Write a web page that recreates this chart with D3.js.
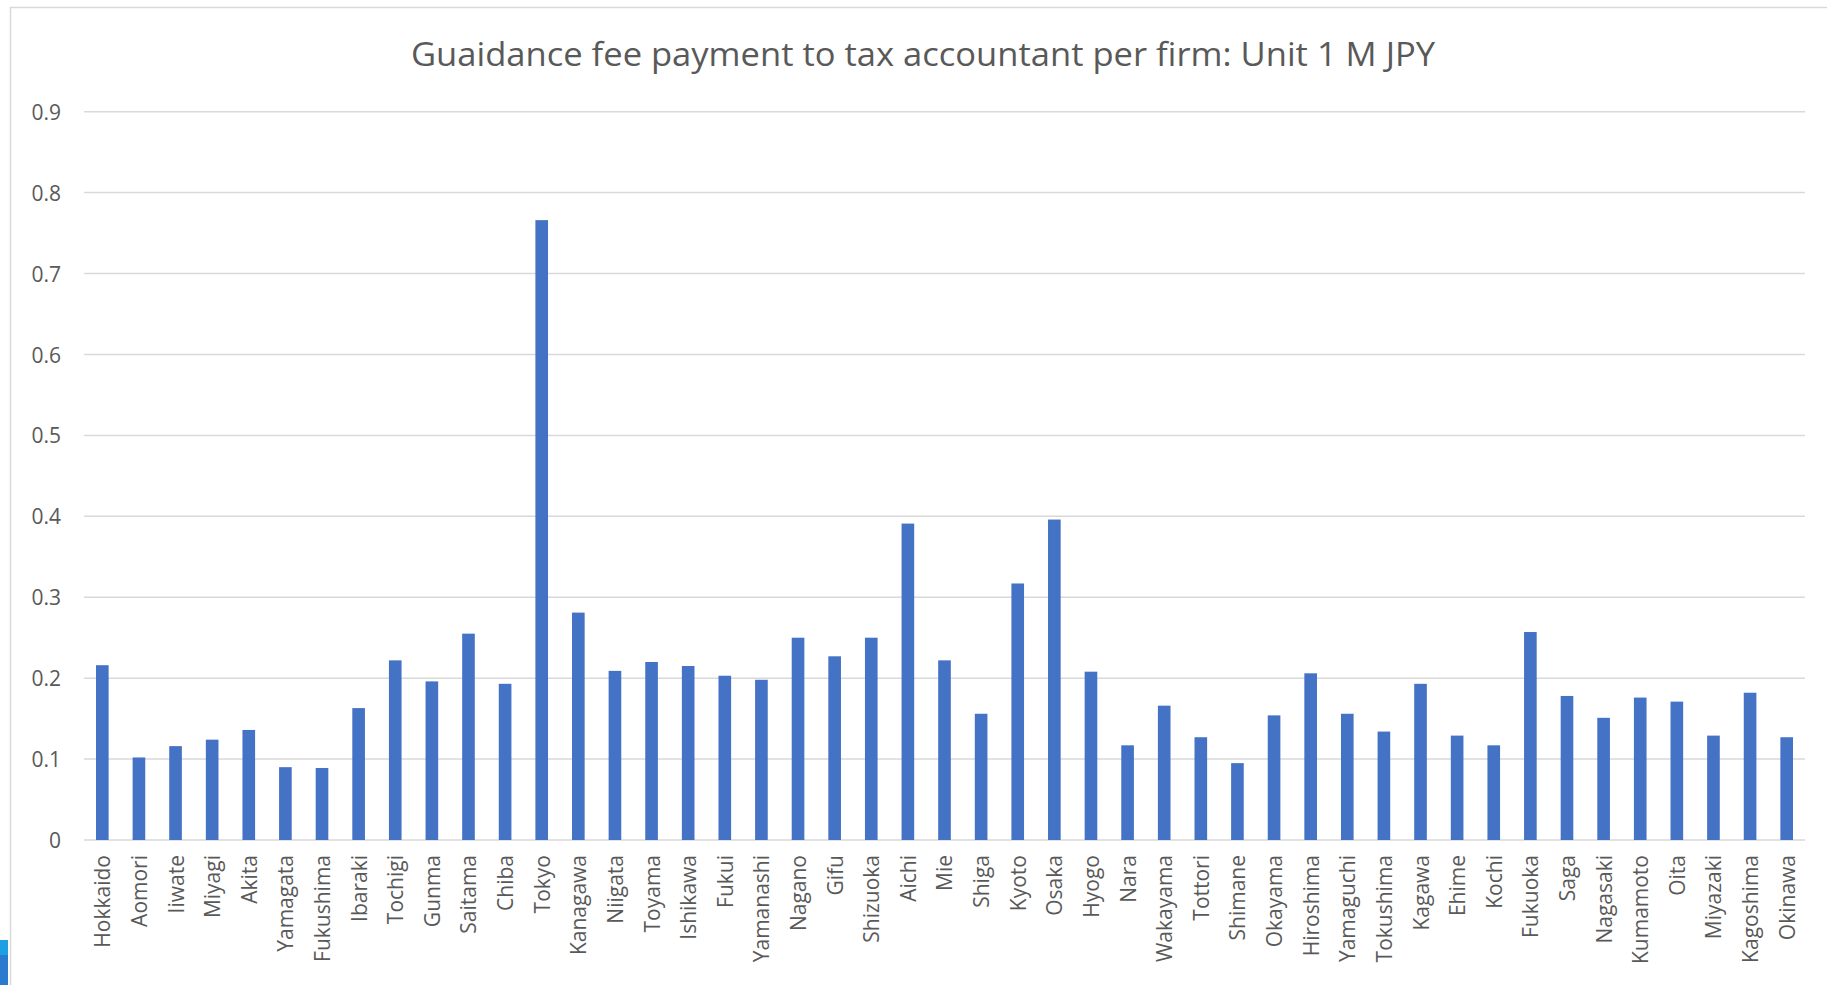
<!DOCTYPE html>
<html>
<head>
<meta charset="utf-8">
<script src="https://cdn.jsdelivr.net/npm/d3@7"></script>
<style>
  html, body { margin: 0; padding: 0; background: #ffffff; }
  svg { display: block; }
  text { font-family: "Open Sans", "Noto Sans", sans-serif; fill: #595959; }
</style>
</head>
<body>
<svg id="chart" width="1827" height="985"></svg>
<script>
// Prefectures in standard order
const prefectures = [
  "Hokkaido", "Aomori", "Iiwate", "Miyagi", "Akita", "Yamagata", "Fukushima",
  "Ibaraki", "Tochigi", "Gunma", "Saitama", "Chiba", "Tokyo", "Kanagawa",
  "Niigata", "Toyama", "Ishikawa", "Fukui", "Yamanashi", "Nagano", "Gifu",
  "Shizuoka", "Aichi", "Mie", "Shiga", "Kyoto", "Osaka", "Hyogo", "Nara",
  "Wakayama", "Tottori", "Shimane", "Okayama", "Hiroshima", "Yamaguchi",
  "Tokushima", "Kagawa", "Ehime", "Kochi", "Fukuoka", "Saga", "Nagasaki",
  "Kumamoto", "Oita", "Miyazaki", "Kagoshima", "Okinawa"
];

// Guidance fee paid per firm (million JPY)
const feePerFirm = [
  0.216, 0.102, 0.116, 0.124, 0.136, 0.090, 0.089,
  0.163, 0.222, 0.196, 0.255, 0.193, 0.766, 0.281,
  0.209, 0.220, 0.215, 0.203, 0.198, 0.250, 0.227,
  0.250, 0.391, 0.222, 0.156, 0.317, 0.396, 0.208, 0.117,
  0.166, 0.127, 0.095, 0.154, 0.206, 0.156,
  0.134, 0.193, 0.129, 0.117, 0.257, 0.178, 0.151,
  0.176, 0.171, 0.129, 0.182, 0.127
];

const yTicks = [0, 0.1, 0.2, 0.3, 0.4, 0.5, 0.6, 0.7, 0.8, 0.9];
const chartTitle = "Guaidance fee payment to tax accountant per firm: Unit 1 M JPY";

const svg = d3.select("#chart");

// Chart frame
svg.append("rect")
  .attr("x", 10.5).attr("y", 7.5)
  .attr("width", 1830).attr("height", 1000)
  .attr("fill", "#ffffff")
  .attr("stroke", "#d9d9d9")
  .attr("stroke-width", 1.5);

// Small corner badge at the lower left edge
svg.append("rect").attr("x", 0).attr("y", 940).attr("width", 8).attr("height", 15).attr("fill", "#1ba1e2");
svg.append("rect").attr("x", 0).attr("y", 955).attr("width", 8).attr("height", 30).attr("fill", "#2a7bd0");

const plot = { left: 84, right: 1805, top: 111.7, bottom: 840 };

const x = d3.scaleBand()
  .domain(prefectures)
  .range([plot.left, plot.right])
  .paddingInner(0.655)
  .paddingOuter(0.3275);

const y = d3.scaleLinear()
  .domain([0, 0.9])
  .range([plot.bottom, plot.top]);

// Horizontal gridlines
svg.append("g")
  .selectAll("line")
  .data(yTicks)
  .join("line")
  .attr("x1", plot.left).attr("x2", plot.right)
  .attr("y1", d => y(d)).attr("y2", d => y(d))
  .attr("stroke", "#d9d9d9")
  .attr("stroke-width", 1.5);

// Y axis labels
const yAxis = d3.axisLeft(y)
  .tickValues(yTicks)
  .tickFormat(d => d === 0 ? "0" : d3.format(".1f")(d))
  .tickSize(0)
  .tickPadding(0);

const yAxisG = svg.append("g")
  .attr("transform", `translate(61,0)`)
  .call(yAxis);
yAxisG.select(".domain").remove();
yAxisG.selectAll("text")
  .attr("font-size", 21)
  .attr("font-family", "'Open Sans', sans-serif")
  .attr("fill", "#595959")
  .attr("dy", "0.36em");

// Bars
svg.append("g")
  .selectAll("rect")
  .data(prefectures.map((p, i) => ({ p, v: feePerFirm[i] })))
  .join("rect")
  .attr("x", d => x(d.p))
  .attr("y", d => y(d.v))
  .attr("width", x.bandwidth())
  .attr("height", d => y(0) - y(d.v))
  .attr("fill", "#4472c4");

// Rotated category labels
const xAxis = d3.axisBottom(x).tickSize(0).tickPadding(0);
const xAxisG = svg.append("g")
  .attr("transform", `translate(0,${plot.bottom})`)
  .call(xAxis);
xAxisG.select(".domain").remove();
xAxisG.selectAll("text")
  .attr("font-size", 21)
  .attr("font-family", "'Open Sans', sans-serif")
  .attr("fill", "#595959")
  .attr("text-anchor", "end")
  .attr("transform", "rotate(-90)")
  .attr("x", -15)
  .attr("y", 0)
  .attr("dy", "0.38em");

// Title
svg.append("text")
  .attr("x", 923)
  .attr("y", 66)
  .attr("text-anchor", "middle")
  .attr("font-size", 32)
  .attr("fill", "#595959")
  .attr("textLength", 1024)
  .attr("lengthAdjust", "spacingAndGlyphs")
  .text(chartTitle);
</script>
</body>
</html>
